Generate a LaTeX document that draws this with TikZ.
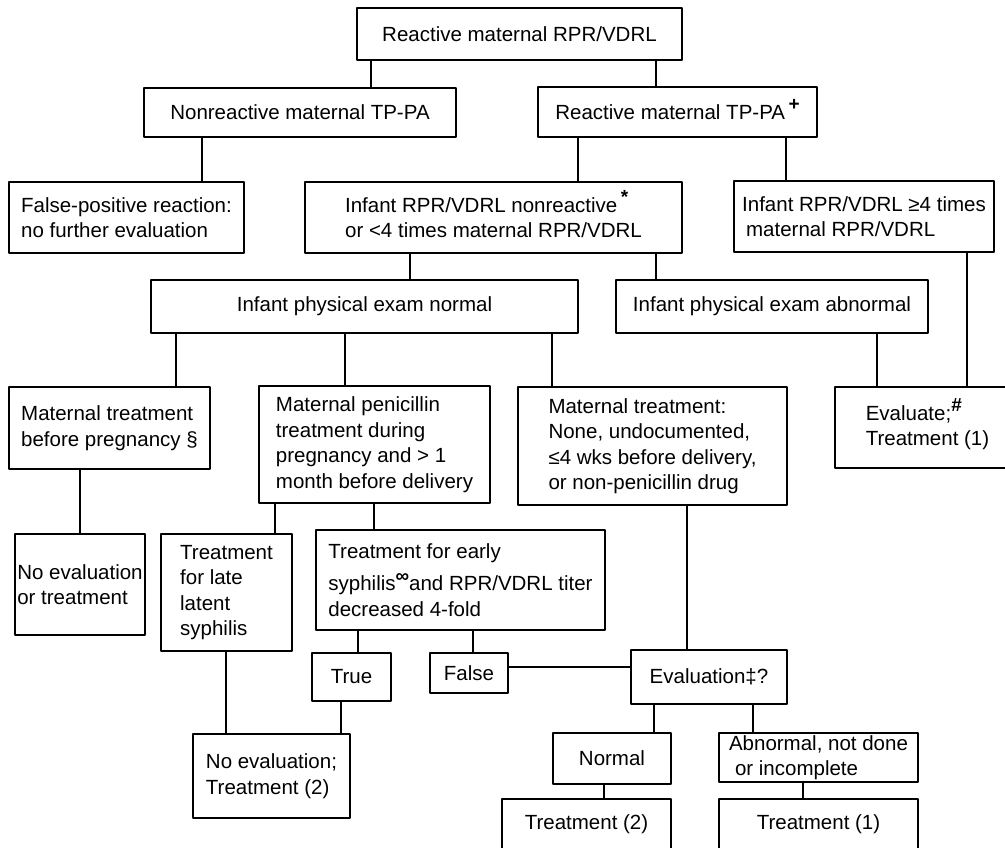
\documentclass[tikz,border=0pt]{standalone}
\usepackage{fontspec}
\setmainfont{Liberation Sans}
\newcommand{\supmark}[1]{\smash{\raisebox{0.8ex}{\fontsize{19}{19}\selectfont\bfseries #1}}}
\begin{document}
\begin{tikzpicture}[x=1pt, y=-1pt, line join=round,
  box/.style={draw, line width=1.4pt, align=left, inner sep=0pt,
    font=\fontsize{20.5}{25.5}\selectfont},
  link/.style={line width=1.4pt}]
\useasboundingbox (0,0) rectangle (1005,848);
\clip (0,0) rectangle (1005,848);
% Boxes (centre, size in px)
\node[box, minimum width=325, minimum height=52] (rmv) at (519.5,34) {Reactive maternal RPR/VDRL};
\node[box, minimum width=312, minimum height=49] (nrt) at (300,112.5) {Nonreactive maternal TP-PA};
\node[box, minimum width=279, minimum height=50] (rtp) at (677.5,112) {Reactive maternal TP-PA\,\supmark{+}};
\node[box, minimum width=235, minimum height=71] (fpr) at (126.5,217.5) {False-positive reaction:\\no further evaluation};
\node[box, minimum width=377, minimum height=71] (inr) at (493.5,217.5) {Infant RPR/VDRL nonreactive\,\supmark{*}\\or <4 times maternal RPR/VDRL};
\node[box, minimum width=260, minimum height=71] (ige) at (864,216.5) {Infant RPR/VDRL ≥4 times\\\hspace*{4pt}maternal RPR/VDRL};
\node[box, minimum width=427, minimum height=53] (pen) at (364.5,306.5) {Infant physical exam normal};
\node[box, minimum width=312, minimum height=53] (pea) at (772,306.5) {Infant physical exam abnormal};
\node[box, minimum width=201, minimum height=82] (mbp) at (109.5,428) {Maternal treatment\\before pregnancy §};
\node[box, minimum width=231, minimum height=117] (mpd) at (374.5,444.5) {Maternal penicillin\\treatment during\\pregnancy and > 1\\month before delivery};
\node[box, minimum width=269, minimum height=118] (mnt) at (652.5,446) {Maternal treatment:\\None, undocumented,\\≤4 wks before delivery,\\or non-penicillin drug};
\node[box, minimum width=185, minimum height=81] (evt) at (927.5,427.5) {Evaluate;\supmark{\#}\\Treatment (1)};
\node[box, minimum width=130, minimum height=101] (nev) at (80,584.5) {No evaluation\\or treatment};
\node[box, minimum width=131, minimum height=117] (tll) at (226.5,592.5) {Treatment\\for late\\latent\\syphilis};
\node[box, minimum width=289, minimum height=100] (tes) at (460.5,580) {Treatment for early\\[7pt]syphilis\supmark{∞}and RPR/VDRL titer\\decreased 4-fold};
\node[box, minimum width=79, minimum height=48] (tru) at (351.5,677) {True};
\node[box, minimum width=78, minimum height=40] (fal) at (469,673) {False};
\node[box, minimum width=156, minimum height=54] (evq) at (709,677) {Evaluation‡?};
\node[box, minimum width=157, minimum height=84] (net) at (271.5,776) {No evaluation;\\Treatment (2)};
\node[box, minimum width=118, minimum height=51] (nor) at (612,758.5) {Normal};
\node[box, minimum width=199, minimum height=49] (abn) at (818.5,757.5) {Abnormal, not done\\\hspace*{6pt}or incomplete};
\node[box, minimum width=169, minimum height=51] (tr2) at (586.5,824.5) {Treatment (2)};
\node[box, minimum width=199, minimum height=51] (tr1) at (818.5,824.5) {Treatment (1)};
% Connectors
\foreach \u/\l/\x in {rmv/nrt/371, rmv/rtp/656, nrt/fpr/202, rtp/inr/578, rtp/ige/786,
  inr/pen/410, inr/pea/656, ige/evt/967, pen/mbp/176, pen/mpd/345, pen/mnt/552,
  pea/evt/877, mbp/nev/80, mpd/tll/275, mpd/tes/374, tes/tru/358, tes/fal/473,
  mnt/evq/687, tll/net/226, tru/net/341, evq/nor/654, evq/abn/753, nor/tr2/604, abn/tr1/803}
  \draw[link] (\u.south -| \x,0) -- (\l.north -| \x,0);
\draw[link] (fal.east |- 0,667) -- (evq.west |- 0,667);
\end{tikzpicture}
\end{document}
